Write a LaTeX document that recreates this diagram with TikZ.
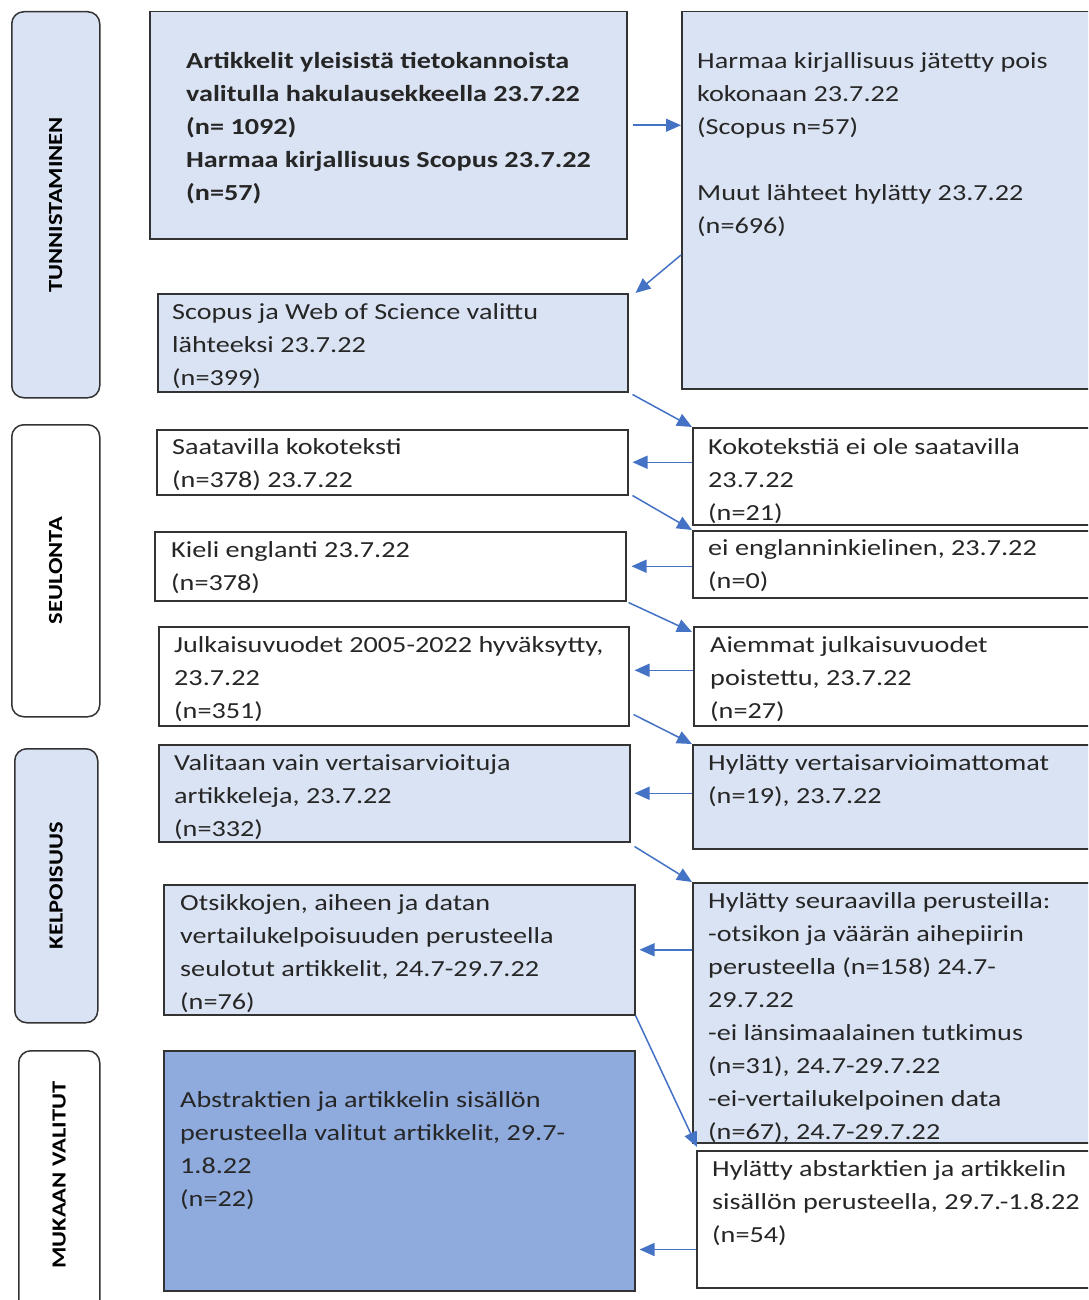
\documentclass[tikz,border=0pt]{standalone}
\usepackage{fontspec}
\setmainfont{Carlito}[FakeStretch=1.225]
\usetikzlibrary{arrows.meta,calc}
\definecolor{lb}{HTML}{DAE3F3}
\definecolor{db}{HTML}{8FAADC}
\definecolor{ab}{HTML}{4472C4}
\definecolor{bd}{HTML}{333333}
\newcommand\bodyfont{\fontsize{23}{33}\selectfont}
\newcommand\sidefont{\fontsize{20}{24}\selectfont\bfseries}
\newcommand\st{\rule{0pt}{20pt}}
\begin{document}
\begin{tikzpicture}[x=1pt,y=-1pt,
  box/.style={draw=bd, line width=1.5pt, anchor=north west, inner sep=0pt, rectangle},
  side/.style={draw=bd, line width=1.5pt, anchor=north west, inner sep=0pt, rounded corners=12pt},
  sidetxt/.style={rotate=90, font=\sidefont, text=black},
  txt/.style={anchor=north west, inner sep=0pt, align=left, font=\bodyfont, text=black!85},
  arr/.style={draw=ab, line width=1.5pt, -{Triangle[length=15pt,width=13pt]}}]
\useasboundingbox (0,0) rectangle (1088,1300);
\clip (0,0) rectangle (1088,1300);
\fill[white] (0,0) rectangle (1088,1300);
% side labels
\node[side, fill=lb, minimum width=88pt, minimum height=386pt] (S1) at (11,11) {};
\node[sidetxt] (L1) at (S1.center) {TUNNISTAMINEN};
\node[side, fill=white, minimum width=88pt, minimum height=292pt] (S2) at (11,424) {};
\node[sidetxt] (L2) at (S2.center) {SEULONTA};
\node[side, fill=lb, minimum width=83pt, minimum height=274pt] (S3) at (14,748) {};
\node[sidetxt] (L3) at (S3.center) {KELPOISUUS};
\node[side, fill=white, minimum width=81pt, minimum height=270pt] (S4) at (18,1050) {};
\node[sidetxt] (L4) at ($(S4.north)+(0,125)$) {MUKAAN VALITUT};
% left boxes
\node[box, fill=lb, minimum width=477pt, minimum height=227pt] (A) at (149,11) {};
\node[box, fill=lb, minimum width=470pt, minimum height=98pt] (C) at (157,293) {};
\node[box, fill=white, minimum width=471pt, minimum height=65pt] (D) at (156,429) {};
\node[box, fill=white, minimum width=471pt, minimum height=69pt] (E) at (154,531) {};
\node[box, fill=white, minimum width=470pt, minimum height=99pt] (F) at (158,626) {};
\node[box, fill=lb, minimum width=471pt, minimum height=97pt] (G) at (158,744) {};
\node[box, fill=lb, minimum width=471pt, minimum height=130pt] (H) at (163,884) {};
\node[box, fill=db, minimum width=471pt, minimum height=240pt] (I) at (163,1050) {};
% right boxes
\node[box, fill=lb, minimum width=414pt, minimum height=377pt] (B) at (681,11) {};
\node[box, fill=white, minimum width=403pt, minimum height=97pt] (J) at (692,427) {};
\node[box, fill=white, minimum width=403pt, minimum height=67pt] (K) at (692,530) {};
\node[box, fill=white, minimum width=402pt, minimum height=99pt] (L) at (693,626) {};
\node[box, fill=lb, minimum width=403pt, minimum height=104pt] (M) at (692,744) {};
\node[box, fill=lb, minimum width=403pt, minimum height=260pt] (N) at (692,882) {};
\node[box, fill=white, minimum width=399pt, minimum height=137pt] (O) at (696,1150) {};
% texts
\node[txt, font=\bodyfont\bfseries] (tA) at (186,48) {\st Artikkelit yleisistä tietokannoista\\ valitulla hakulausekkeella 23.7.22\\ (n= 1092)\\ Harmaa kirjallisuus Scopus 23.7.22\\ (n=57)};
\node[txt] (tB) at (697,48) {\st Harmaa kirjallisuus jätetty pois\\ kokonaan 23.7.22\\ (Scopus n=57)\\ ~\\ Muut lähteet hylätty 23.7.22\\ (n=696)};
\node[txt] (tC) at (172,299) {\st Scopus ja Web of Science valittu\\ lähteeksi 23.7.22\\ (n=399)};
\node[txt] (tD) at (172,434) {\st Saatavilla kokoteksti\\ (n=378) 23.7.22};
\node[txt] (tE) at (171,537) {\st Kieli englanti 23.7.22\\ (n=378)};
\node[txt] (tF) at (174,632) {\st Julkaisuvuodet 2005-2022 hyväksytty,\\ 23.7.22\\ (n=351)};
\node[txt] (tG) at (174,750) {\st Valitaan vain vertaisarvioituja\\ artikkeleja, 23.7.22\\ (n=332)};
\node[txt] (tH) at (180,890) {\st Otsikkojen, aiheen ja datan\\ vertailukelpoisuuden perusteella\\ seulotut artikkelit, 24.7-29.7.22\\ (n=76)};
\node[txt] (tI) at (180,1087) {\st Abstraktien ja artikkelin sisällön\\ perusteella valitut artikkelit, 29.7-\\ 1.8.22\\ (n=22)};
\node[txt] (tJ) at (708,434) {\st Kokotekstiä ei ole saatavilla\\ 23.7.22\\ (n=21)};
\node[txt] (tK) at (708,535) {\st ei englanninkielinen, 23.7.22\\ (n=0)};
\node[txt] (tL) at (710,632) {\st Aiemmat julkaisuvuodet\\ poistettu, 23.7.22\\ (n=27)};
\node[txt] (tM) at (708,750) {\st Hylätty vertaisarvioimattomat\\ (n=19), 23.7.22};
\node[txt] (tN) at (708,888) {\st Hylätty seuraavilla perusteilla:\\ -otsikon ja väärän aihepiirin\\ perusteella (n=158) 24.7-\\ 29.7.22\\ -ei länsimaalainen tutkimus\\ (n=31), 24.7-29.7.22\\ -ei-vertailukelpoinen data\\ (n=67), 24.7-29.7.22};
\node[txt] (tO) at (712,1156) {\st Hylätty abstarktien ja artikkelin\\ sisällön perusteella, 29.7.-1.8.22\\ (n=54)};
% arrows
\draw[arr] ([xshift=5pt]A.east) -- (A.east -| B.west);
\draw[arr] ($(B.north west)+(0,244)$) -- ($(C.north east)+(7,0)$);
\draw[arr] ($(C.south east)+(4,2)$) -- (J.north west);
\draw[arr] (J.west |- D.east) -- ($(D.east)+(4,0)$);
\draw[arr] ($(D.south east)+(4,0)$) -- (K.north west);
\draw[arr] (K.west |- E.east) -- ($(E.east)+(5,0)$);
\draw[arr] ($(E.south east)+(2,1)$) -- ($(L.north west)+(-1,6)$);
\draw[arr] ($(L.west)+(0,-6)$) -- ($(F.east)+(5,-6)$);
\draw[arr] ($(F.south east)+(4,-12)$) -- (M.north west);
\draw[arr] (M.west |- G.east) -- ($(G.east)+(4,0)$);
\draw[arr] ($(G.south east)+(4,4)$) -- (N.north west);
\draw[arr] (N.west |- H.east) -- ($(H.east)+(4,0)$);
\draw[arr] (H.south east) -- ($(O.north west)+(1,-3)$);
\draw[arr] ($(O.south west)+(0,-39)$) coordinate (o1) -- ([xshift=4pt]o1 -| I.east);
\end{tikzpicture}
\end{document}
